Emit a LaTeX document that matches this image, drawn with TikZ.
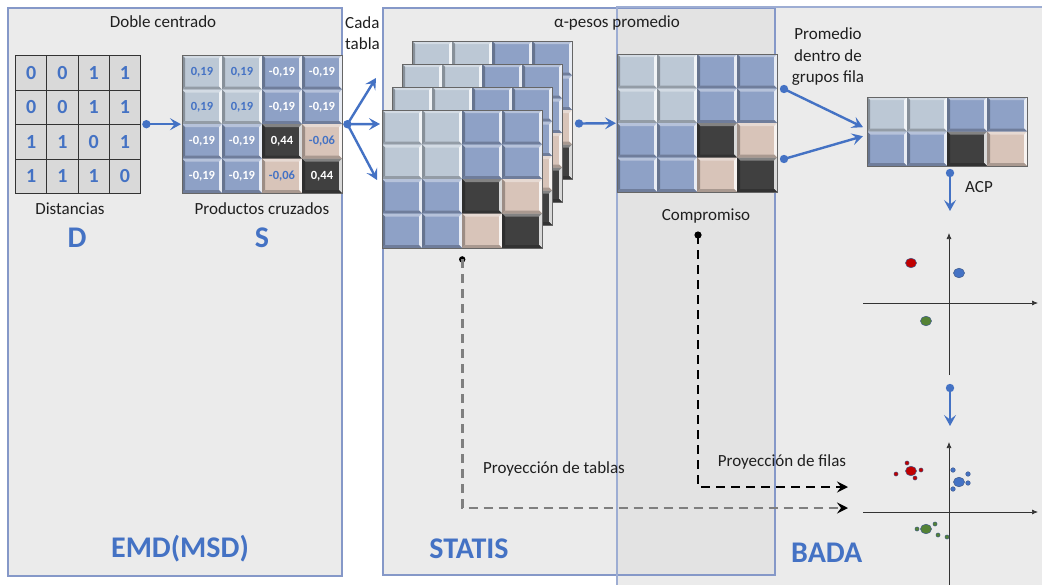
\documentclass[tikz,border=0pt]{standalone}
\usepackage{fontspec}
\setmainfont{Carlito}
\usetikzlibrary{arrows.meta}

\definecolor{panelfill}{HTML}{EBEBEB}
\definecolor{overlapfill}{HTML}{E3E3E3}
\definecolor{panelline}{HTML}{8598C8}
\definecolor{accent}{HTML}{4472C4}
\definecolor{tlight}{HTML}{BCC8D5}
\definecolor{tblue}{HTML}{8EA1C6}
\definecolor{tdark}{HTML}{404040}
\definecolor{ttan}{HTML}{D8C4B9}
\definecolor{dcell}{HTML}{D9D9D9}
\definecolor{projgray}{HTML}{7F7F7F}
\definecolor{ptred}{HTML}{C00000}
\definecolor{ptblue}{HTML}{4472C4}
\definecolor{ptgreen}{HTML}{548235}
\definecolor{ptline}{HTML}{3F5A8A}

% bevelled tile: x, y (top), width, height, colour
\newcommand\bevtile[5]{%
  \fill[#5] (#1,#2) rectangle (#1+#3,#2+#4);
  \fill[#5!65!white] (#1,#2) -- (#1+#3,#2) -- (#1+#3-3,#2+3) -- (#1+3,#2+3) -- cycle;
  \fill[#5!72!black] (#1,#2) -- (#1+3,#2+3) -- (#1+3,#2+#4-3) -- (#1,#2+#4) -- cycle;
  \fill[white!80!#5] (#1+#3,#2) -- (#1+#3,#2+#4) -- (#1+#3-3,#2+#4-3) -- (#1+#3-3,#2+3) -- cycle;
  \fill[#5!78!black] (#1,#2+#4) -- (#1+#3,#2+#4) -- (#1+#3-3,#2+#4-3) -- (#1+3,#2+#4-3) -- cycle;
}
% 4x4 cross-product table: x, y (top left)
\newcommand\crosstable[2]{%
  \foreach \r/\c/\col in {0/0/tlight,0/1/tlight,0/2/tblue,0/3/tblue,
                          1/0/tlight,1/1/tlight,1/2/tblue,1/3/tblue,
                          2/0/tblue,2/1/tblue,2/2/tdark,2/3/ttan,
                          3/0/tblue,3/1/tblue,3/2/ttan,3/3/tdark}
    {\bevtile{#1+40*\c}{#2+34.5*\r}{40}{34.5}{\col}}
  \draw[black!60, line width=0.8] (#1,#2) rectangle (#1+160,#2+138);
}

\begin{document}
\begin{tikzpicture}[x=1pt,y=-1pt,
  lbl/.style={font=\fontsize{17}{21.5}\selectfont, text=black!88, inner sep=0},
  big/.style={font=\bfseries\fontsize{30}{34}\selectfont, text=accent, inner sep=0},
  flow/.style={draw=accent, line width=2.4, -{Stealth[length=11pt,width=12pt,inset=4.5pt]}},
  enddot/.style={fill=accent},
  proj/.style={line width=2.6, dash pattern=on 9pt off 6pt, -{Stealth[length=11pt,width=11pt,inset=4pt,black]}},
  axis/.style={line width=0.7, draw=black!80, -{Latex[length=6pt,width=5pt]}},
  region/.style={inner sep=0, minimum width=160, minimum height=138, anchor=north west},
  bigpt/.style={draw=ptline, line width=0.5},
  smallpt/.style={draw=ptline, line width=0.4}
]
\useasboundingbox (0,0) rectangle (1042,584);

% ---- panels ----
\fill[panelfill] (8,8) rectangle (342,576);
\fill[panelfill] (383,8) rectangle (775,575);
\fill[panelfill] (617,7) rectangle (1046,590);
\fill[overlapfill] (617,8) rectangle (775,575);
\draw[panelline, line width=1.1] (8,8) rectangle (342,576);
\draw[panelline, line width=1.1] (383,8) rectangle (775,575);
\draw[panelline!80, line width=1.1] (1046,7) -- (617,7) -- (617,590);

% ---- distance table D ----
\foreach \r/\row in {0/{0,0,1,1},1/{0,0,1,1},2/{1,1,0,1},3/{1,1,1,0}}{
  \foreach \v [count=\c from 0] in \row {
    \node[draw=black!80, line width=0.9, fill=dcell, minimum width=31.25, minimum height=34.5,
          inner sep=0, anchor=north west, text=accent,
          font=\bfseries\fontsize{20}{20}\selectfont, text depth=0pt]
      (d-\r-\c) at (15+31.25*\c,55+34.5*\r) {\v};
  }
}
\node[region, minimum width=125] (Dm) at (15,55) {};

% ---- double-centred table S ----
\crosstable{182}{55}
\node[region] (Sm) at (182,55) {};
\foreach \r/\row in {0/{{0,19}/accent,{0,19}/accent,{-0,19}/white,{-0,19}/white},
                     1/{{0,19}/accent,{0,19}/accent,{-0,19}/white,{-0,19}/white},
                     2/{{-0,19}/white,{-0,19}/white,{0,44}/white,{-0,06}/accent},
                     3/{{-0,19}/white,{-0,19}/white,{-0,06}/accent,{0,44}/white}}{
  \foreach \v/\tc [count=\c from 0] in \row {
    \node[font=\bfseries\fontsize{12.5}{14}\selectfont, text=\tc, inner sep=0]
      (s-\r-\c) at (182+40*\c+20,55+34.5*\r+17.5) {\v};
  }
}

% ---- stack of tables ----
\crosstable{412}{41}
\crosstable{402}{64}
\crosstable{392}{87}
\crosstable{382}{110}
\node[region] (Tback) at (412,41) {};
\node[region] (Tfront) at (382,110) {};

% ---- compromise ----
\crosstable{617}{54}
\node[region] (Cm) at (617,54) {};

% ---- row-group means ----
\foreach \r/\c/\col in {0/0/tlight,0/1/tlight,0/2/tblue,0/3/tblue,
                        1/0/tblue,1/1/tblue,1/2/tdark,1/3/ttan}
  {\bevtile{867+40*\c}{97+34.5*\r}{40}{34.5}{\col}}
\draw[black!60, line width=0.8] (867,97) rectangle (1027,166);
\node[region, minimum height=69] (Pm) at (867,97) {};

% ---- labels ----
\node[lbl] (tDoble) at (163,22) {Doble centrado};
\node[lbl] (tDist) at (70,209) {Distancias};
\node[big] (tD) at (77,238) {D};
\node[lbl] (tProd) at (262,209) {Productos cruzados};
\node[big] (tS) at (262,238) {S};
\node[lbl, align=left, anchor=west] (tCada) at (345,33) {Cada\\tabla};
\node[lbl] (tAlpha) at (617,23) {α-pesos promedio};
\node[lbl] (tComp) at (706,216) {Compromiso};
\node[lbl, align=center] (tProm) at (828,57) {Promedio\\dentro de\\grupos fila};
\node[lbl] (tACP) at (979,187) {ACP};
\node[lbl] (tPT) at (554,469) {Proyección de tablas};
\node[lbl] (tPF) at (782,462) {Proyección de filas};
\node[big] (tEMD) at (180,549) {EMD(MSD)};
\node[big] (tSTATIS) at (469,549) {STATIS};
\node[big, anchor=west] (tBADA) at (791,553) {BADA};

% ---- connectors ----
% D -> S
\coordinate (dS) at ([xshift=6]Dm.east);
\fill[enddot] (dS) circle (4.2);
\draw[flow] (dS) -- ([xshift=-1]Sm.west);
% S -> each table
\coordinate (dFan) at ([xshift=5]Sm.east);
\coordinate (fanA) at (376,78);
\coordinate (fanB) at (380,124);
\coordinate (fanC) at (377,180);
\fill[enddot] (dFan) circle (4.2);
\draw[flow] (dFan) -- (fanA);
\draw[flow] (dFan) -- (fanB);
\draw[flow] (dFan) -- (fanC);
% tables -> compromise
\coordinate (dC) at (579,123.5);
\fill[enddot] (dC) circle (4.2);
\draw[flow] (dC) -- ([xshift=-1]Cm.west);
% compromise -> row-group means
\coordinate (dP1) at (784,89);
\coordinate (dP2) at (784,159);
\fill[enddot] (dP1) circle (4.2);
\fill[enddot] (dP2) circle (4.2);
\draw[flow] (dP1) -- ([xshift=-4,yshift=4.5]Pm.west);
\draw[flow] (dP2) -- ([xshift=-4,yshift=-4.5]Pm.west);
% ACP
\coordinate (dA) at (950,173);
\coordinate (eA) at (950,211);
\fill[enddot] (dA) circle (4.2);
\draw[flow] (dA) -- (eA);
% first map -> second map
\coordinate (dM) at (950,388);
\coordinate (eM) at (950,426);
\fill[enddot] (dM) circle (4.2);
\draw[flow] (dM) -- (eM);

% projections
\coordinate (sT) at ([yshift=-11]Tfront.south);
\coordinate (projT) at (848,508);
\fill[black] (sT) circle (3.2);
\draw[proj, projgray] (sT) |- (projT);
\coordinate (sF) at (698,235);
\coordinate (projF) at (848,487);
\fill[black] (sF) circle (3.6);
\draw[proj, black] (sF) |- (projF);

% ---- factor map of group means ----
\draw[axis] (863,303) -- (1038,303);
\draw[axis] (949,375) -- (949,233);
\filldraw[bigpt, fill=ptred] (911,263) ellipse (5.5 and 4.8);
\filldraw[bigpt, fill=ptblue] (959,273) ellipse (5.5 and 4.8);
\filldraw[bigpt, fill=ptgreen] (926,321) ellipse (5.5 and 4.8);

% ---- factor map with projected rows ----
\draw[axis] (863,512) -- (1038,512);
\draw[axis] (949,590) -- (949,442);
\filldraw[bigpt, fill=ptred] (911,471) ellipse (5.5 and 4.8);
\foreach \p in {(907,463),(921,470),(896,474),(915,478)}
  \filldraw[smallpt, fill=ptred] \p circle (2.1);
\filldraw[bigpt, fill=ptblue] (959,482) ellipse (5.5 and 4.8);
\foreach \p in {(953,470),(968,474),(968,483),(953,489)}
  \filldraw[smallpt, fill=ptblue] \p circle (2.3);
\filldraw[bigpt, fill=ptgreen] (926,529) ellipse (5.5 and 4.8);
\foreach \p in {(917,529),(935,524),(938,535),(947,537)}
  \filldraw[smallpt, fill=ptgreen] \p circle (2.1);
\end{tikzpicture}
\end{document}
